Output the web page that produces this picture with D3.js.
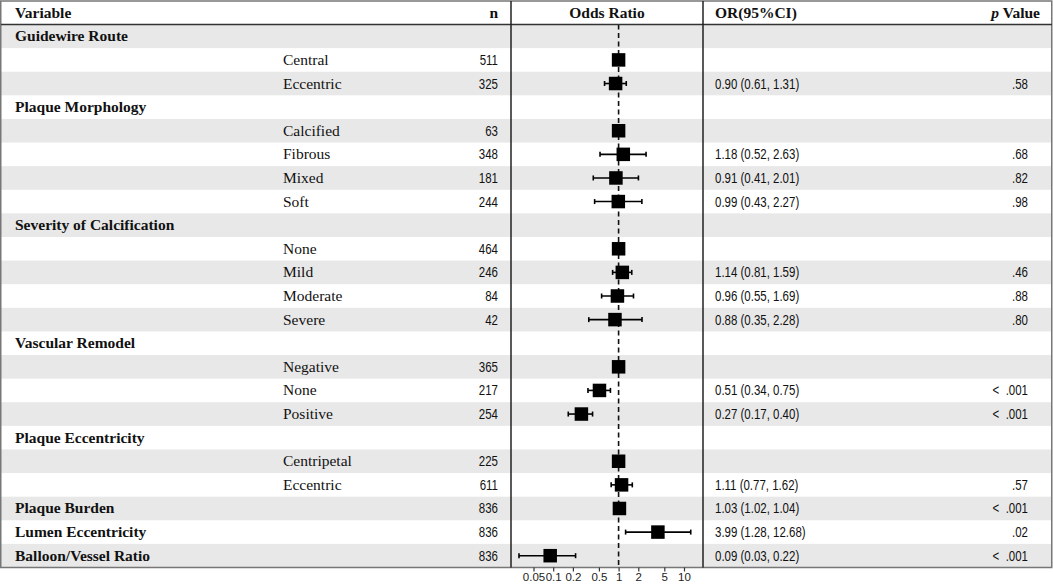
<!DOCTYPE html>
<html>
<head>
<meta charset="utf-8">
<script src="https://cdn.jsdelivr.net/npm/d3@7"></script>
<style>
  body { margin: 0; background: #fff; }
  svg { display: block; }
  text { white-space: pre; }
</style>
</head>
<body>
<svg id="chart"></svg>
<script>
const width = 1053, height = 585;

// table rows, top to bottom
const groupLabels = ["Guidewire Route", "", "", "Plaque Morphology", "", "", "", "",
  "Severity of Calcification", "", "", "", "", "Vascular Remodel", "", "", "",
  "Plaque Eccentricity", "", "", "Plaque Burden", "Lumen Eccentricity", "Balloon/Vessel Ratio"];
const subLabels = ["", "Central", "Eccentric", "", "Calcified", "Fibrous", "Mixed", "Soft",
  "", "None", "Mild", "Moderate", "Severe", "", "Negative", "None", "Positive",
  "", "Centripetal", "Eccentric", "", "", ""];
const nValues = [null, 511, 325, null, 63, 348, 181, 244, null, 464, 246, 84, 42,
  null, 365, 217, 254, null, 225, 611, 836, 836, 836];
const orValues = [null, 1, 0.90, null, 1, 1.18, 0.91, 0.99, null, 1, 1.14, 0.96, 0.88,
  null, 1, 0.51, 0.27, null, 1, 1.11, 1.03, 3.99, 0.09];
const ciLower = [null, null, 0.61, null, null, 0.52, 0.41, 0.43, null, null, 0.81, 0.55, 0.35,
  null, null, 0.34, 0.17, null, null, 0.77, 1.02, 1.28, 0.03];
const ciUpper = [null, null, 1.31, null, null, 2.63, 2.01, 2.27, null, null, 1.59, 1.69, 2.28,
  null, null, 0.75, 0.40, null, null, 1.62, 1.04, 12.68, 0.22];
const orText = ["", "", "0.90 (0.61, 1.31)", "", "", "1.18 (0.52, 2.63)", "0.91 (0.41, 2.01)",
  "0.99 (0.43, 2.27)", "", "", "1.14 (0.81, 1.59)", "0.96 (0.55, 1.69)", "0.88 (0.35, 2.28)",
  "", "", "0.51 (0.34, 0.75)", "0.27 (0.17, 0.40)", "", "", "1.11 (0.77, 1.62)",
  "1.03 (1.02, 1.04)", "3.99 (1.28, 12.68)", "0.09 (0.03, 0.22)"];
const pText = ["", "", ".58", "", "", ".68", ".82", ".98", "", "", ".46", ".88", ".80",
  "", "", "<  .001", "<  .001", "", "", ".57", "<  .001", ".02", "<  .001"];
const axisTicks = [0.05, 0.1, 0.2, 0.5, 1, 2, 5, 10];
const axisLabels = ["0.05", "0.1", "0.2", "0.5", "1", "2", "5", "10"];

const serif = "'Liberation Serif', 'Times New Roman', serif";
const sans = "'Liberation Sans', Arial, sans-serif";
const squeeze = 0.82;

const tableTop = 1, headerBottom = 24.5, tableBottom = 567.5;
const colN = 498, colPanel0 = 511, colPanel1 = 703, colOR = 715, colP = 1028;

const svg = d3.select("#chart")
    .attr("width", width)
    .attr("height", height);

const rowIdx = d3.range(groupLabels.length);
const y = d3.scaleBand()
    .domain(rowIdx)
    .range([headerBottom, tableBottom]);

const x = d3.scaleLog()
    .domain([0.05, 10])
    .range([533.5, 684]);

// stripes
svg.append("g")
    .selectAll("rect")
    .data(rowIdx.filter(i => i % 2 === 0))
    .join("rect")
    .attr("x", 1)
    .attr("y", i => y(i))
    .attr("width", width - 2)
    .attr("height", y.bandwidth())
    .attr("fill", "#e8e8e8");

// sans text in narrow style
function sansText(g, tx, ty, str, anchor, size) {
    g.append("text")
        .attr("transform", `translate(${tx},${ty}) scale(${squeeze},1)`)
        .attr("text-anchor", anchor)
        .attr("font-family", sans)
        .attr("font-size", size || 14)
        .attr("fill", "#111")
        .text(str);
}

// header
const head = svg.append("g")
    .attr("font-family", serif)
    .attr("font-weight", "bold")
    .attr("font-size", 15.5)
    .attr("fill", "#111");
head.append("text").attr("x", 15).attr("y", 18).text("Variable");
head.append("text").attr("x", colN).attr("y", 18).attr("text-anchor", "end").text("n");
head.append("text").attr("x", (colPanel0 + colPanel1) / 2).attr("y", 18)
    .attr("text-anchor", "middle").text("Odds Ratio");
head.append("text").attr("x", colOR).attr("y", 18).text("OR(95%CI)");
const pv = head.append("text").attr("x", 1040).attr("y", 18).attr("text-anchor", "end");
pv.append("tspan").attr("font-style", "italic").text("p");
pv.append("tspan").text(" Value");

// left columns
const left = svg.append("g");
rowIdx.forEach(i => {
    const cy = y(i) + y.bandwidth() / 2 + 5;
    if (groupLabels[i]) {
        left.append("text")
            .attr("x", 15).attr("y", cy)
            .attr("font-family", serif).attr("font-weight", "bold").attr("font-size", 15.5)
            .attr("fill", "#111")
            .text(groupLabels[i]);
    }
    if (subLabels[i]) {
        left.append("text")
            .attr("x", 283).attr("y", cy)
            .attr("font-family", serif).attr("font-size", 15.5)
            .attr("fill", "#111")
            .text(subLabels[i]);
    }
    if (nValues[i] != null) sansText(left, colN, cy, String(nValues[i]), "end");
    if (orText[i]) sansText(left, colOR, cy, orText[i], "start");
    if (pText[i]) sansText(left, colP, cy, pText[i], "end");
});

// reference line
svg.append("line")
    .attr("x1", x(1)).attr("x2", x(1))
    .attr("y1", headerBottom).attr("y2", tableBottom)
    .attr("stroke", "#111")
    .attr("stroke-width", 1.6)
    .attr("stroke-dasharray", "5,3.5");

// CI whiskers
const forest = svg.append("g").attr("stroke", "#000").attr("stroke-width", 1.6);
const ciRows = rowIdx.filter(i => ciLower[i] != null);
forest.selectAll("line.ci")
    .data(ciRows)
    .join("line")
    .attr("class", "ci")
    .attr("x1", i => x(ciLower[i]))
    .attr("x2", i => x(ciUpper[i]))
    .attr("y1", i => y(i) + y.bandwidth() / 2)
    .attr("y2", i => y(i) + y.bandwidth() / 2);
["lo", "hi"].forEach(side => {
    forest.selectAll("line.cap-" + side)
        .data(ciRows)
        .join("line")
        .attr("class", "cap-" + side)
        .attr("x1", i => x(side === "lo" ? ciLower[i] : ciUpper[i]))
        .attr("x2", i => x(side === "lo" ? ciLower[i] : ciUpper[i]))
        .attr("y1", i => y(i) + y.bandwidth() / 2 - 2.5)
        .attr("y2", i => y(i) + y.bandwidth() / 2 + 2.5);
});

// point estimates
const sq = 13.5;
svg.append("g")
    .selectAll("rect")
    .data(rowIdx.filter(i => orValues[i] != null))
    .join("rect")
    .attr("x", i => x(orValues[i]) - sq / 2)
    .attr("y", i => y(i) + y.bandwidth() / 2 - sq / 2)
    .attr("width", sq)
    .attr("height", sq)
    .attr("fill", "#000");

// grid lines and border
const frame = svg.append("g").attr("fill", "none");
frame.append("rect")
    .attr("x", 0.75).attr("y", tableTop)
    .attr("width", width - 2).attr("height", tableBottom - tableTop)
    .attr("stroke", "#777").attr("stroke-width", 1.5);
frame.append("line")
    .attr("x1", 1).attr("x2", width - 1)
    .attr("y1", headerBottom).attr("y2", headerBottom)
    .attr("stroke", "#333").attr("stroke-width", 1.3);
[colPanel0, colPanel1].forEach(cx => {
    frame.append("line")
        .attr("x1", cx).attr("x2", cx)
        .attr("y1", tableTop).attr("y2", tableBottom)
        .attr("stroke", "#222").attr("stroke-width", 1.5);
});

// axis
const axis = svg.append("g")
    .attr("transform", `translate(0,${tableBottom})`)
    .call(d3.axisBottom(x)
        .tickValues(axisTicks)
        .tickFormat((d, i) => axisLabels[i])
        .tickSize(4)
        .tickPadding(1.5));
axis.select(".domain").remove();
axis.selectAll(".tick line").attr("stroke", "#333").attr("stroke-width", 1.2);
axis.selectAll(".tick text")
    .attr("font-family", sans)
    .attr("font-size", 11.5)
    .attr("fill", "#222");
</script>
</body>
</html>
